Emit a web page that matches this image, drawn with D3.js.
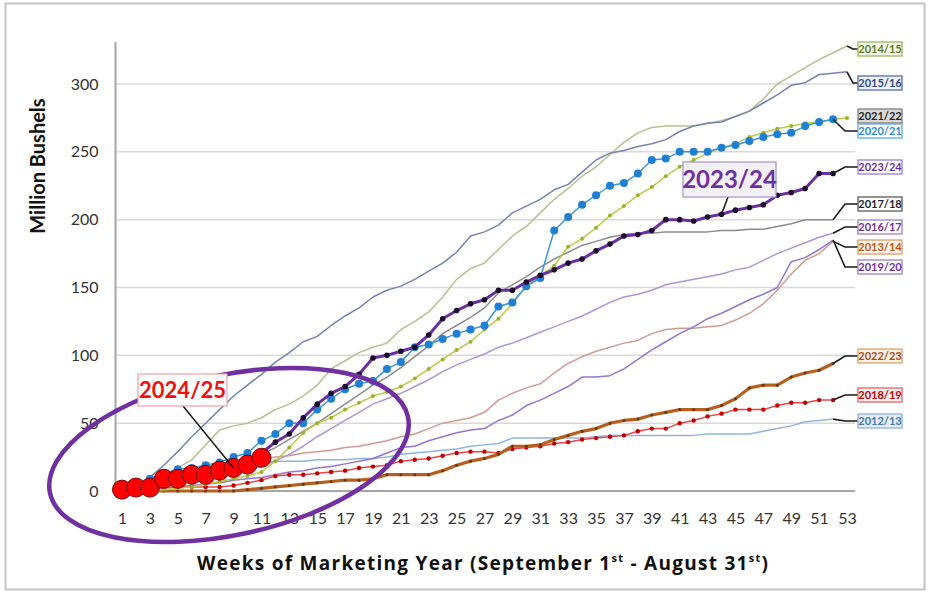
<!DOCTYPE html>
<html>
<head>
<meta charset="utf-8">
<script src="https://cdn.jsdelivr.net/npm/d3@7"></script>
<style>
  body { margin: 0; background: #fff; }
  svg { display: block; font-family: Lato, "Open Sans", sans-serif; }
</style>
</head>
<body>
<svg id="chart" width="931" height="595"></svg>
<script>
// cumulative exports, million bushels, by week of marketing year
const season1213 = [0,2,5,9,12,15,17,19,20,21, 21,22,22,22,23,23,23,24,24,25, 27,28,29,30,31,33,34,35,39,39, 39,39,39,39,40,41,41,41,41,41, 41,41,42,42,42,42,44,46,48,51, 52,53];
const season1314 = [0,1,3,5,8,11,14,17,19,21, 23,25,26,28,29,30,32,33,35,37, 40,42,46,50,52,54,58,67,72,76, 79,87,94,99,103,106,109,111,116,119, 120,120,121,122,126,131,138,148,160,170, 175,184];
const season1415 = [0,2,6,11,17,23,34,45,48,50, 54,60,64,70,78,90,96,102,106,109, 119,125,132,143,156,164,168,178,188,195, 205,215,223,232,239,248,257,264,268,269, 269,269,271,273,276,280,289,300,306,312, 318,323,328];
const season1516 = [0,4,10,19,29,40,50,60,70,78, 86,95,102,110,114,122,129,135,143,148, 151,156,162,168,176,188,191,196,205,210, 215,222,226,235,244,249,251,254,256,259, 265,269,271,272,276,280,286,292,299,301, 307,308,309];
const season1617 = [0,1,2,4,6,8,10,12,14,16, 18,22,27,33,40,46,52,58,64,68, 72,77,82,88,93,97,101,106,109,113, 117,121,125,129,134,139,143,145,148,152, 154,156,158,160,163,165,170,175,179,183, 187,190];
const season1718 = [0,1,3,6,9,12,15,18,21,24, 27,32,38,44,50,57,64,71,78,84, 91,99,107,116,122,128,135,146,152,158, 165,171,176,181,184,187,189,190,190,191, 191,191,191,192,192,193,193,195,197,200, 200,200];
const season1819 = [0,1,2,3,3,3,3,3,4,6, 8,11,12,12,13,14,15,17,18,19, 22,23,24,26,28,29,29,28,31,32, 33,35,36,38,39,40,41,44,46,46, 50,52,55,57,60,60,60,63,65,65, 67,67];
const season1920 = [0,0,1,2,3,4,5,6,8,9, 10,12,14,15,17,18,20,22,24,28, 32,33,37,40,43,45,46,52,56,63, 67,72,77,84,84,85,90,97,104,110, 116,121,127,131,136,141,145,150,169,172, 178,185];
const season2021 = [2,5,9,13,16,17,19,21,25,28, 37,42,50,50,60,68,75,79,81,90, 95,106,108,112,116,119,122,136,139,151, 157,192,202,211,218,225,227,234,244,245, 250,250,250,253,255,258,261,263,264,269, 272,274];
const season2122 = [0,0,0,1,2,3,5,7,9,11, 14,22,32,43,50,54,60,65,70,73, 77,83,90,97,104,110,119,127,138,151, 159,166,180,186,194,203,210,218,224,232, 239,244,249,253,256,261,264,267,269,271, 272,274,275];
const season2223 = [0,0,0,0,0,0,0,0,0,1, 2,3,4,5,6,7,8,8,9,12, 12,12,12,15,19,22,24,27,33,33, 34,38,41,44,46,50,52,53,56,58, 60,60,60,63,68,76,78,78,84,87, 89,94];
const season2324 = [0.5,1.5,3,5,7,9,12,15,18,22, 28,36,42,54,64,72,77,86,98,100, 103,106,115,127,133,138,141,148,148,154, 159,163,168,171,177,182,188,189,192,200, 200,199,202,204,207,209,211,218,220,223, 234,234];
const season2425 = [1,2.5,2.5,9,9,12,12,15,17,19.5,24.5];

const xTicks = d3.range(1, 54, 2);
const yTicks = [0, 50, 100, 150, 200, 250, 300];

const svg = d3.select("#chart");
const x = d3.scaleLinear().domain([1, 53]).range([122, 847]);
const y = d3.scaleLinear().domain([0, 300]).range([491, 84]);
const xLeft = x(0.535), xRight = x(53.58);

// outer frame
svg.append("rect").attr("x", 5.5).attr("y", 3.5).attr("width", 919).attr("height", 586)
  .attr("fill", "none").attr("stroke", "#c4c4c4").attr("stroke-width", 2);

// gridlines
svg.append("g").selectAll("line").data(yTicks.filter(d => d > 0)).join("line")
  .attr("x1", xLeft).attr("x2", xRight)
  .attr("y1", d => y(d)).attr("y2", d => y(d))
  .attr("stroke", "#d9d9d9").attr("stroke-width", 1.5);

// axes
const yAxis = svg.append("g").attr("transform", `translate(${xLeft},0)`)
  .call(d3.axisLeft(y).tickValues(yTicks).tickSize(0).tickPadding(17));
yAxis.select(".domain").remove();
yAxis.selectAll("text").attr("font-size", 16).attr("fill", "#333").attr("font-family", "Lato");

const xAxis = svg.append("g").attr("transform", `translate(0,${y(0)})`)
  .call(d3.axisBottom(x).tickValues(xTicks).tickSize(0).tickPadding(22));
xAxis.select(".domain").remove();
xAxis.selectAll("text").attr("font-size", 16).attr("fill", "#333").attr("font-family", "Lato");

svg.append("line").attr("x1", xLeft).attr("x2", xLeft).attr("y1", y(331)).attr("y2", y(0))
  .attr("stroke", "#a6a6a6").attr("stroke-width", 2);
svg.append("line").attr("x1", xLeft).attr("x2", xRight).attr("y1", y(0)).attr("y2", y(0))
  .attr("stroke", "#a6a6a6").attr("stroke-width", 2);

// axis titles
svg.append("text").attr("transform", "translate(45,166) rotate(-90)")
  .attr("text-anchor", "middle").attr("font-size", 20).attr("font-weight", "bold")
  .attr("fill", "#111").text("Million Bushels");

const xt = svg.append("text").attr("x", 197).attr("y", 570)
  .attr("textLength", 571).attr("lengthAdjust", "spacing")
  .attr("font-family", "'Open Sans', Lato, sans-serif")
  .attr("font-size", 19).attr("font-weight", "bold").attr("fill", "#111");
xt.append("tspan").text("Weeks of Marketing Year (September 1");
xt.append("tspan").attr("font-size", 11).attr("dy", -8).text("st");
xt.append("tspan").attr("dy", 8).text(" - August 31");
xt.append("tspan").attr("font-size", 11).attr("dy", -8).text("st");
xt.append("tspan").attr("dy", 8).text(")");

// series
const seasons = [
  { name: "2012/13", values: season1213, color: "#8eb4e3", width: 1.5, labelY: 421, box: "#8db3e2", fill: "#e3edf8", text: "#4a76b0" },
  { name: "2013/14", values: season1314, color: "#d39a93", width: 1.5, labelY: 247, box: "#d9a066", fill: "#fdf0e4", text: "#b35b1e" },
  { name: "2014/15", values: season1415, color: "#b5c091", width: 1.5, labelY: 49, box: "#9bbb59", fill: "#f3f6ea", text: "#5f7a26" },
  { name: "2015/16", values: season1516, color: "#7384b2", width: 1.5, labelY: 83, box: "#4f6fb0", fill: "#eef2fa", text: "#2e4a8a" },
  { name: "2016/17", values: season1617, color: "#ad95d8", width: 1.5, labelY: 227, box: "#9a7fcf", fill: "#fff", text: "#7030a0" },
  { name: "2017/18", values: season1718, color: "#8c8c8c", width: 1.5, labelY: 204, box: "#595959", fill: "#fff", text: "#262626" },
  { name: "2019/20", values: season1920, color: "#9575cd", width: 1.5, labelY: 267, box: "#9a7fcf", fill: "#fff", text: "#7030a0" },
  { name: "2018/19", values: season1819, color: "#e8474a", width: 1.5, labelY: 395, box: "#e06666", fill: "#fdeeee", text: "#c00000", dot: 2.2, dotFill: "#c00000" },
  { name: "2022/23", values: season2223, color: "#b5601f", width: 3.2, labelY: 356, box: "#d9a066", fill: "#fdf0e4", text: "#a0521c", dot: 1.5, dotFill: "#6b3510" },
  { name: "2021/22", values: season2122, color: "#bccb45", width: 1.5, labelY: 116, box: "#7f7f7f", fill: "#d9d9d9", text: "#262626", dot: 2, dotFill: "#9cb02a", noLeader: true },
  { name: "2020/21", values: season2021, color: "#3a95dc", width: 1.5, labelY: 131, box: "#5aa9e6", fill: "#fff", text: "#2a8ad4", dot: 4, dotFill: "#1f7fd0" },
  { name: "2023/24", values: season2324, color: "#6a2fa0", width: 3, labelY: 167, box: "#9a7fcf", fill: "#fff", text: "#7030a0", dot: 2.8, dotFill: "#1b0b2b" }
];

const line = d3.line().x((d, i) => x(i + 1)).y(d => y(d));

seasons.forEach(s => {
  const g = svg.append("g");
  g.append("path").attr("d", line(s.values)).attr("fill", "none")
    .attr("stroke", s.color).attr("stroke-width", s.width).attr("stroke-linejoin", "round");
  if (s.dot) {
    g.selectAll("circle").data(s.values).join("circle")
      .attr("cx", (d, i) => x(i + 1)).attr("cy", d => y(d)).attr("r", s.dot)
      .attr("fill", s.dotFill);
  }
});

// right-hand labels with leader lines
const boxX = 858, boxW = 44, boxH = 14;
seasons.forEach(s => {
  const n = s.values.length;
  const lx = x(n), ly = y(s.values[n - 1]);
  if (!s.noLeader) {
    const mid = Math.min(lx + 12, boxX - 5);
    svg.append("path").attr("d", `M${lx},${ly}L${mid},${s.labelY}L${boxX},${s.labelY}`)
      .attr("fill", "none").attr("stroke", "#1a1a1a").attr("stroke-width", 1.6);
  }
  svg.append("rect").attr("x", boxX).attr("y", s.labelY - boxH / 2).attr("width", boxW).attr("height", boxH)
    .attr("fill", s.fill).attr("stroke", s.box).attr("stroke-width", 1.3);
  svg.append("text").attr("x", boxX + boxW / 2).attr("y", s.labelY + 4).attr("text-anchor", "middle")
    .attr("font-size", 11).attr("font-weight", "bold").attr("fill", s.text).text(s.name);
});

// 2024/25 current season
const cur = svg.append("g");
cur.append("path").attr("d", line(season2425)).attr("fill", "none").attr("stroke", "#ff0000").attr("stroke-width", 2);
cur.selectAll("circle").data(season2425).join("circle")
  .attr("cx", (d, i) => x(i + 1)).attr("cy", d => y(d)).attr("r", 9.5)
  .attr("fill", "#ff0000").attr("stroke", "#7a0000").attr("stroke-width", 1);

// highlight ellipse
svg.append("ellipse").attr("cx", 229).attr("cy", 455).attr("rx", 183).attr("ry", 80)
  .attr("transform", "rotate(-12,229,455)")
  .attr("fill", "none").attr("stroke", "#7030a0").attr("stroke-width", 4.5);

// callouts
svg.append("line").attr("x1", 183).attr("y1", 406).attr("x2", x(9)).attr("y2", y(season2425[8]))
  .attr("stroke", "#1a1a1a").attr("stroke-width", 1.5);
svg.append("rect").attr("x", 138).attr("y", 374).attr("width", 89).attr("height", 32)
  .attr("fill", "#fff").attr("stroke", "#f0a0a0").attr("stroke-width", 1.2);
svg.append("text").attr("x", 182.5).attr("y", 398).attr("text-anchor", "middle")
  .attr("font-size", 22).attr("font-weight", "bold").attr("fill", "#f01010").text("2024/25");

svg.append("line").attr("x1", 728).attr("y1", 197).attr("x2", x(44)).attr("y2", y(season2324[43]))
  .attr("stroke", "#1a1a1a").attr("stroke-width", 1.5);
svg.append("rect").attr("x", 683).attr("y", 162).attr("width", 93).attr("height", 35)
  .attr("fill", "#f2f0f5").attr("stroke", "#a393c2").attr("stroke-width", 1.2);
svg.append("text").attr("x", 729.5).attr("y", 188).attr("text-anchor", "middle")
  .attr("font-size", 24).attr("font-weight", "bold").attr("fill", "#7030a0").text("2023/24");
</script>
</body>
</html>
